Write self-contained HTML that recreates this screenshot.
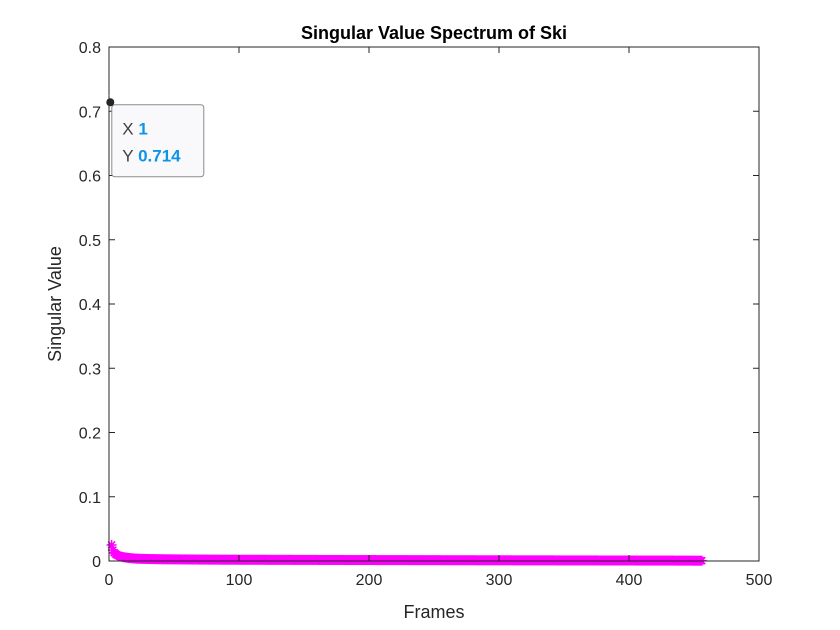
<!DOCTYPE html>
<html><head><meta charset="utf-8"><style>
body{margin:0;background:#fff}
svg{display:block;font-family:"Liberation Sans",Arial,sans-serif}
</style></head><body>
<svg id="c" width="840" height="630" viewBox="0 0 840 630">
<rect width="840" height="630" fill="#fff"/>
<g id="plot"></g>
</svg>
<script>
const xTicks=[0,100,200,300,400,500];
const yTicks=[0,0.1,0.2,0.3,0.4,0.5,0.6,0.7,0.8];
const yTickLabels=["0","0.1","0.2","0.3","0.4","0.5","0.6","0.7","0.8"];
const headValues=[0.714,0.025,0.017,0.013,0.011,0.0095,0.0085,0.0078,0.007,0.0065,0.006,0.0057,0.0054,0.0051,0.0048,0.0046,0.0044,0.0042,0.004,0.0038,
0.0037,0.0036,0.0035,0.0034,0.0034,0.0033,0.0033,0.0032,0.0032,0.0031,0.0031,0.003,0.003,0.003,0.0029,0.0029,0.0029,0.0028,0.0028,0.0028];
const tailValues=[
0.0027,0.0027,0.0027,0.0027,0.0026,0.0026,0.0026,0.0026,0.0026,0.0025,0.0025,0.0025,0.0025,0.0025,0.0025,0.0024,0.0024,0.0024,0.0024,0.0024,
0.0024,0.0023,0.0023,0.0023,0.0023,0.0023,0.0023,0.0023,0.0022,0.0022,0.0022,0.0022,0.0022,0.0022,0.0022,0.0022,0.0021,0.0021,0.0021,0.0021,
0.0021,0.0021,0.0021,0.0021,0.0021,0.002,0.002,0.002,0.002,0.002,0.002,0.002,0.002,0.002,0.002,0.002,0.002,0.002,0.002,0.002,
0.0019,0.0019,0.0019,0.0019,0.0019,0.0019,0.0019,0.0019,0.0019,0.0019,0.0019,0.0019,0.0019,0.0019,0.0019,0.0019,0.0019,0.0019,0.0019,0.0019,
0.0018,0.0018,0.0018,0.0018,0.0018,0.0018,0.0018,0.0018,0.0018,0.0018,0.0018,0.0018,0.0018,0.0018,0.0018,0.0018,0.0018,0.0018,0.0018,0.0018,
0.0017,0.0017,0.0017,0.0017,0.0017,0.0017,0.0017,0.0017,0.0017,0.0017,0.0017,0.0017,0.0017,0.0017,0.0017,0.0017,0.0017,0.0017,0.0017,0.0017,
0.0016,0.0016,0.0016,0.0016,0.0016,0.0016,0.0016,0.0016,0.0016,0.0016,0.0016,0.0016,0.0016,0.0016,0.0016,0.0016,0.0016,0.0016,0.0016,0.0016,
0.0015,0.0015,0.0015,0.0015,0.0015,0.0015,0.0015,0.0015,0.0015,0.0015,0.0015,0.0015,0.0015,0.0015,0.0015,0.0015,0.0015,0.0015,0.0015,0.0015,
0.0015,0.0015,0.0015,0.0015,0.0015,0.0014,0.0014,0.0014,0.0014,0.0014,0.0014,0.0014,0.0014,0.0014,0.0014,0.0014,0.0014,0.0014,0.0014,0.0014,
0.0014,0.0014,0.0014,0.0014,0.0014,0.0014,0.0014,0.0014,0.0014,0.0014,0.0013,0.0013,0.0013,0.0013,0.0013,0.0013,0.0013,0.0013,0.0013,0.0013,
0.0013,0.0013,0.0013,0.0013,0.0013,0.0013,0.0013,0.0013,0.0013,0.0013,0.0013,0.0013,0.0013,0.0013,0.0013,0.0012,0.0012,0.0012,0.0012,0.0012,
0.0012,0.0012,0.0012,0.0012,0.0012,0.0012,0.0012,0.0012,0.0012,0.0012,0.0012,0.0012,0.0012,0.0012,0.0012,0.0012,0.0012,0.0012,0.0012,0.0012,
0.0012,0.0011,0.0011,0.0011,0.0011,0.0011,0.0011,0.0011,0.0011,0.0011,0.0011,0.0011,0.0011,0.0011,0.0011,0.0011,0.0011,0.0011,0.0011,0.0011,
0.0011,0.0011,0.0011,0.0011,0.0011,0.0011,0.0011,0.0011,0.0011,0.0011,0.001,0.001,0.001,0.001,0.001,0.001,0.001,0.001,0.001,0.001,
0.001,0.001,0.001,0.001,0.001,0.001,0.001,0.001,0.001,0.001,0.001,0.001,0.001,0.001,0.001,0.001,0.001,0.001,0.001,0.001,
0.001,0.001,0.0009,0.0009,0.0009,0.0009,0.0009,0.0009,0.0009,0.0009,0.0009,0.0009,0.0009,0.0009,0.0009,0.0009,0.0009,0.0009,0.0009,0.0009,
0.0009,0.0009,0.0009,0.0009,0.0009,0.0009,0.0009,0.0009,0.0009,0.0009,0.0009,0.0009,0.0009,0.0009,0.0009,0.0009,0.0008,0.0008,0.0008,0.0008,
0.0008,0.0008,0.0008,0.0008,0.0008,0.0008,0.0008,0.0008,0.0008,0.0008,0.0008,0.0008,0.0008,0.0008,0.0008,0.0008,0.0008,0.0008,0.0008,0.0008,
0.0008,0.0008,0.0008,0.0008,0.0007,0.0007,0.0007,0.0007,0.0007,0.0007,0.0007,0.0007,0.0007,0.0007,0.0007,0.0007,0.0007,0.0007,0.0007,0.0007,
0.0007,0.0007,0.0007,0.0007,0.0007,0.0007,0.0007,0.0007,0.0007,0.0007,0.0007,0.0007,0.0007,0.0007,
0.0006,0.0006,0.0006,0.0006,0.0006,0.0006,0.0006,0.0006,0.0006,0.0006,0.0006,0.0006,0.0006,0.0006,
0.0005,0.0005,0.0005,0.0005,0.0005,0.0005,0.0005,0.0005];
const values=headValues.concat(tailValues);
const tipIndex=0;

const L=109,R=759,T=47,B=561,NS="http://www.w3.org/2000/svg";
const xs=v=>L+(v-0)/(500-0)*(R-L);
const ys=v=>B-(v-0)/(0.8-0)*(B-T);
const svg=document.getElementById('c');
function mk(tag,attrs,parent){const e=document.createElementNS(NS,tag);for(const k in attrs)e.setAttribute(k,attrs[k]);(parent||svg).appendChild(e);return e;}
const axisColor="#262626";

const series=mk('g',{});


values.forEach((v,i)=>{
  const cx=xs(i+1),cy=ys(v),r=5;
  const g=mk('g',{stroke:'#ff00ff','stroke-width':1.5},series);
  
  
  mk('line',{x1:cx-r,y1:cy,x2:cx+r,y2:cy},g);
  mk('line',{x1:cx,y1:cy-r,x2:cx,y2:cy+r},g);
  mk('line',{x1:cx-r*.7,y1:cy-r*.7,x2:cx+r*.7,y2:cy+r*.7},g);
  mk('line',{x1:cx-r*.7,y1:cy+r*.7,x2:cx+r*.7,y2:cy-r*.7},g);
});

const box=mk('rect',{x:L,y:T,width:R-L,height:B-T,fill:'none',stroke:axisColor,'stroke-width':1});



xTicks.forEach(t=>{
  const x=xs(t);
  mk('line',{x1:x,y1:B,x2:x,y2:B-6,stroke:axisColor});
  mk('line',{x1:x,y1:T,x2:x,y2:T+6,stroke:axisColor});
  const tx=mk('text',{x:x,y:B+24,'text-anchor':'middle','font-size':16,fill:axisColor});
  tx.textContent=String(t);
  
  
});
yTicks.forEach((t,i)=>{
  const y=ys(t);
  mk('line',{x1:L,y1:y,x2:L+6,y2:y,stroke:axisColor});
  mk('line',{x1:R,y1:y,x2:R-6,y2:y,stroke:axisColor});
  const tx=mk('text',{x:L-8,y:y+6,'text-anchor':'end','font-size':16,fill:axisColor});
  tx.textContent=yTickLabels[i];
  
  
});

const title=mk('text',{x:(L+R)/2,y:39,'text-anchor':'middle','font-size':18,'font-weight':'bold',fill:'#000'});
title.textContent='Singular Value Spectrum of Ski';


const xt=mk('text',{x:(L+R)/2,y:618,'text-anchor':'middle','font-size':18,fill:axisColor});
xt.textContent='Frames';


const yt=mk('text',{x:0,y:0,'text-anchor':'middle','font-size':18,fill:axisColor,transform:`translate(61,${(T+B)/2}) rotate(-90)`});
yt.textContent='Singular Value';



const tip=mk('g',{});


const px=xs(tipIndex+1),py=ys(values[tipIndex]);
mk('rect',{x:px-7,y:py-7,width:14,height:14,fill:'#fff',stroke:'none'},tip);
mk('rect',{x:px+1.5,y:py+2.5,width:92,height:72,rx:3,fill:'#f9f9fc',stroke:'#8c8c8c','stroke-width':1},tip);
mk('line',{x1:L,y1:py-7,x2:L,y2:py+7,stroke:axisColor},tip);
mk('circle',{cx:px,cy:py,r:4,fill:'#262626'},tip);
const t1=mk('text',{x:px+12,y:py+32,'font-size':17,fill:'#404040'},tip);
t1.innerHTML='X <tspan font-weight="bold" fill="#0f93e6">'+(tipIndex+1)+'</tspan>';
const t2=mk('text',{x:px+12,y:py+59,'font-size':17,fill:'#404040'},tip);
t2.innerHTML='Y <tspan font-weight="bold" fill="#0f93e6">'+values[tipIndex].toFixed(3)+'</tspan>';
</script>
</body></html>
